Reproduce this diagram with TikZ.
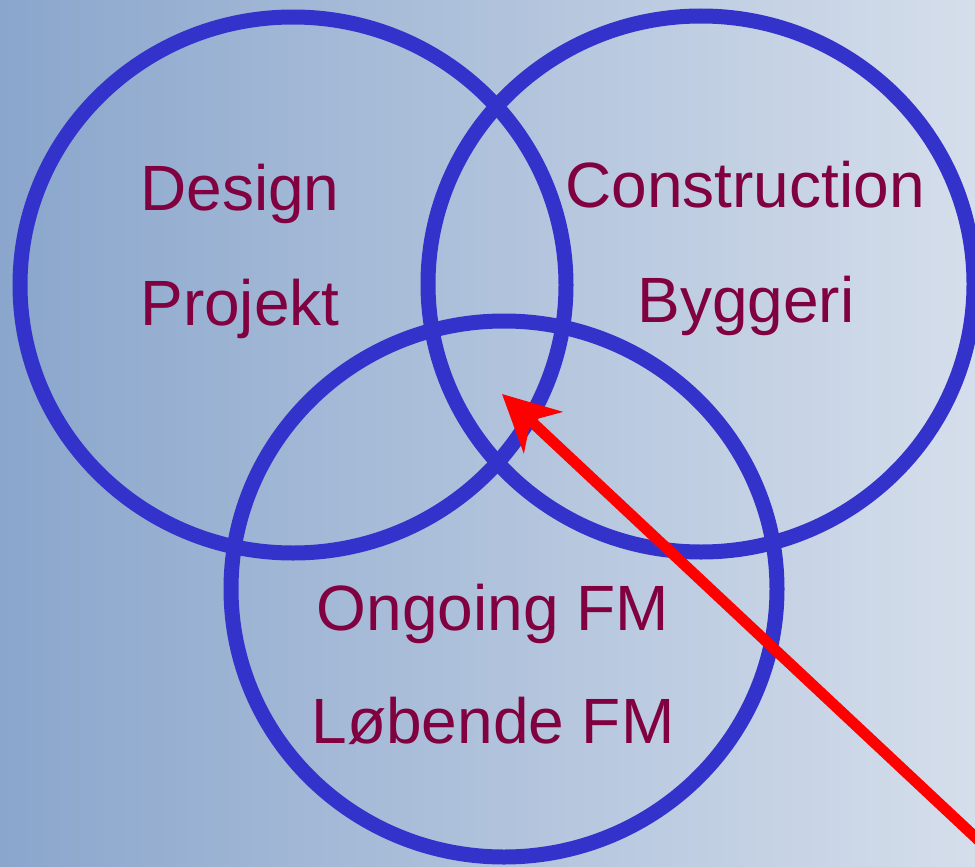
\documentclass[tikz,border=0pt]{standalone}
\usepackage{fontspec}
\setmainfont{Liberation Sans}
\usetikzlibrary{shapes.geometric,arrows.meta}
\definecolor{bgleft}{RGB}{138,166,204}
\definecolor{bgright}{RGB}{213,222,235}
\definecolor{ringblue}{RGB}{51,51,204}
\definecolor{labelred}{RGB}{128,0,64}
\tikzset{
  ring/.style={ellipse, draw=ringblue, line width=15pt, minimum width=546pt, minimum height=536pt, inner sep=0pt},
  lbl/.style={text=labelred, font=\fontsize{64pt}{70pt}\selectfont, anchor=base, inner sep=0pt},
  pointer/.style={draw=red, line width=11pt, -{Stealth[length=56pt,width=56pt,inset=17pt]}}
}
\begin{document}
\begin{tikzpicture}[x=1pt,y=-1pt]
\useasboundingbox (0,0) rectangle (975,867);
\clip (0,0) rectangle (975,867);
\shade[left color=bgleft, right color=bgright] (0,0) rectangle (975,867);
\node[ring] (design) at (293,285) {};
\node[ring] (construction) at (701,284) {};
\node[ring] (ongoing) at (504,589) {};
\node[lbl] (t1) at (240,210) {Design};
\node[lbl] (t2) at (240,325) {Projekt};
\node[lbl] (t3) at (745,207) {Construction};
\node[lbl] (t4) at (746,322) {Byggeri};
\node[lbl] (t5) at (493,630) {Ongoing FM};
\node[lbl] (t6) at (493,743) {Løbende FM};
\coordinate (tail) at (990,851);
\coordinate (tip) at (502,394);
\draw[pointer] (tail) -- (tip);
\end{tikzpicture}
\end{document}
